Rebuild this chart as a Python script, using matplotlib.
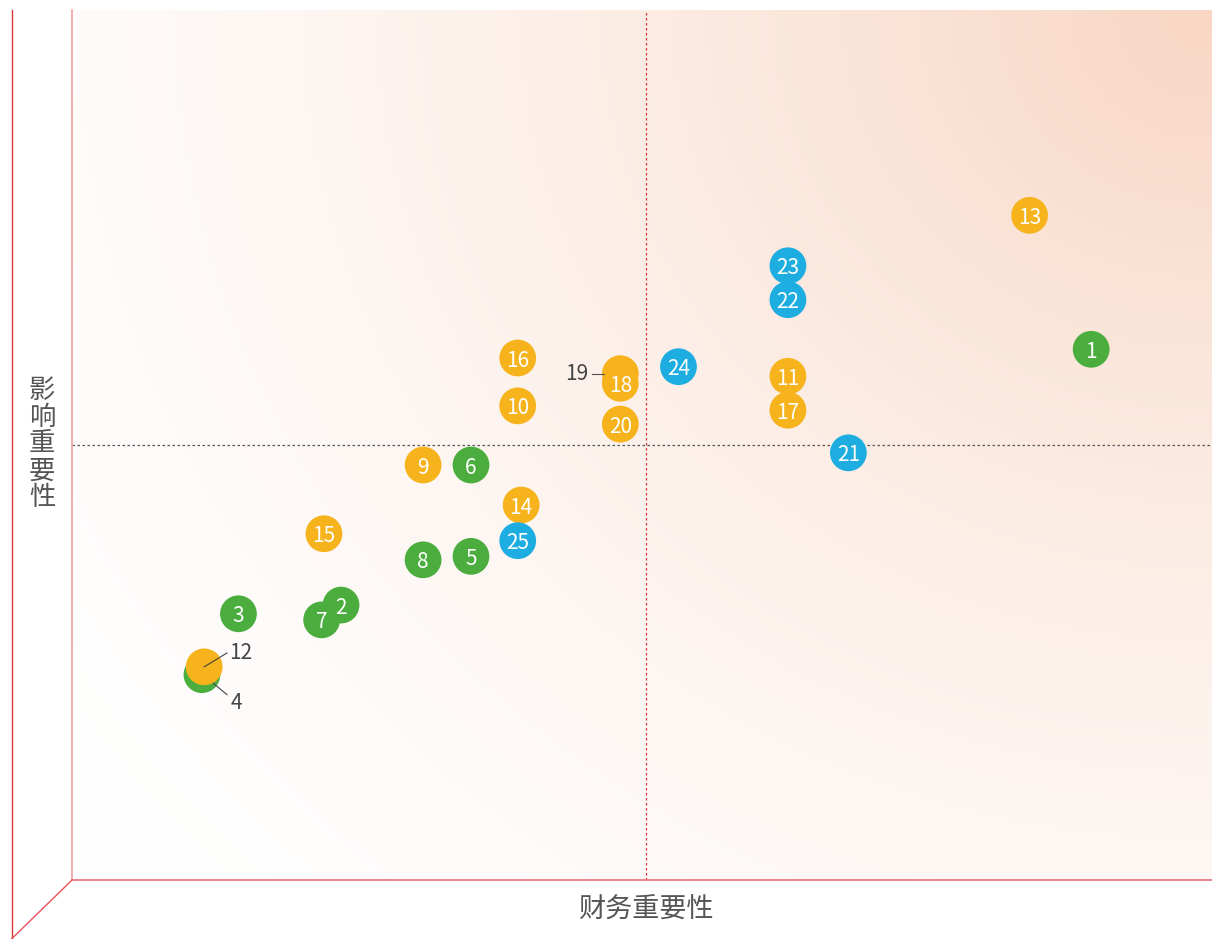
import numpy as np
import matplotlib.pyplot as plt

plt.rcParams['font.family'] = ['Noto Sans CJK SC', 'DejaVu Sans']

# topic ids, financial importance (x), impact importance (y), group
ids = ['1', '2', '3', '4', '5', '6', '7', '8',
       '9', '10', '11', '12', '13', '14', '15', '16', '17', '18', '19', '20',
       '21', '22', '23', '24', '25']
xs = [89.4, 23.6, 14.6, 11.4, 35.0, 35.0, 21.9, 30.8,
      30.8, 39.1, 62.8, 11.6, 84.0, 39.4, 22.1, 39.1, 62.8, 48.1, 48.1, 48.1,
      68.1, 62.8, 62.8, 53.2, 39.1]
ys = [61.0, 31.6, 30.6, 23.6, 37.2, 47.7, 29.9, 36.8,
      47.7, 54.5, 57.9, 24.5, 76.4, 43.1, 39.8, 60.0, 54.0, 57.1, 58.2, 52.4,
      49.1, 66.7, 70.6, 59.0, 39.0]
groups = ['g'] * 8 + ['o'] * 12 + ['b'] * 5
colors = {'g': '#4aad3e', 'o': '#f6b31b', 'b': '#1dade0'}
xmid, ymid = 50.35, 50.0

fig = plt.figure(figsize=(12.12, 9.39), dpi=100)
ax = fig.add_axes([72 / 1212, 59 / 939, 1140 / 1212, 870 / 939])
ax.set_xlim(0, 100)
ax.set_ylim(0, 100)

# background gradient, strongest at top right
gx, gy = np.meshgrid(np.linspace(0, 1, 300), np.linspace(0, 1, 300))
d = np.sqrt((1 - gx) ** 2 + (1 - gy) ** 2 * 0.7) / np.sqrt(1.7)
t = np.clip(1 - d, 0, 1) ** 1.6
c0 = np.array([255, 255, 255]) / 255
c1 = np.array([248, 214, 195]) / 255
img = c0 + (c1 - c0) * t[..., None]
ax.imshow(img, extent=[0, 100, 0, 100], origin='lower', aspect='auto', zorder=0)

ax.axvline(xmid, color='#e0303a', lw=0.9, ls=(0, (2, 2)), zorder=1)
ax.axhline(ymid, color='#555555', lw=0.9, ls=(0, (2, 2)), zorder=1)

order = [i for i in range(len(ids)) if ids[i] not in ('18', '12')] + [ids.index('18'), ids.index('12')]
for i in order:
    ax.scatter(xs[i], ys[i], s=700, color=colors[groups[i]], edgecolors='none', zorder=3)
    if ids[i] == '19':
        ax.plot([xs[i] - 1.4, xs[i] - 2.5], [ys[i], ys[i]], color='#555555', lw=0.8, zorder=4)
        ax.text(xs[i] - 2.8, ys[i], ids[i], ha='right', va='center', fontsize=15,
                color='#444444', fontweight='light', zorder=5)
    elif ids[i] == '12':
        ax.plot([xs[i], xs[i] + 2.0], [ys[i], ys[i] + 1.6], color='#444444', lw=0.8, zorder=5)
        ax.text(xs[i] + 2.2, ys[i] + 1.6, ids[i], ha='left', va='center', fontsize=15,
                color='#444444', fontweight='light', zorder=5)
    elif ids[i] == '4':
        ax.plot([xs[i] + 1.0, xs[i] + 2.2], [ys[i] - 1.0, ys[i] - 2.3], color='#444444', lw=0.8, zorder=5)
        ax.text(xs[i] + 2.5, ys[i] - 3.3, ids[i], ha='left', va='center', fontsize=15,
                color='#444444', fontweight='light', zorder=5)
    else:
        ax.text(xs[i], ys[i] - 0.3, ids[i], ha='center', va='center', fontsize=15,
                color='white', fontweight='light', zorder=4)

for s in ['top', 'right']:
    ax.spines[s].set_visible(False)
ax.spines['left'].set_color('#f4a0a4')
ax.spines['bottom'].set_color('#e8707a')
ax.spines['left'].set_linewidth(1.2)
ax.spines['bottom'].set_linewidth(1.2)
ax.set_xticks([])
ax.set_yticks([])

# outer frame lines
fig.add_artist(plt.Line2D([11.5 / 1212, 11.5 / 1212], [0, 929 / 939], color='#d8343c', lw=1.0))
fig.add_artist(plt.Line2D([11.5 / 1212, 72 / 1212], [0, 59 / 939], color='#e8505a', lw=1.0))

fig.text(646 / 1212, 1 - 910 / 939, '财务重要性', ha='center', va='center', fontsize=19.5,
         color='#555555', fontweight='light')
fig.text(42 / 1212, 1 - 444 / 939, '影\n响\n重\n要\n性', ha='center', va='center', fontsize=19,
         color='#555555', fontweight='light', linespacing=1.0)

fig.savefig('out.png', dpi=100)
